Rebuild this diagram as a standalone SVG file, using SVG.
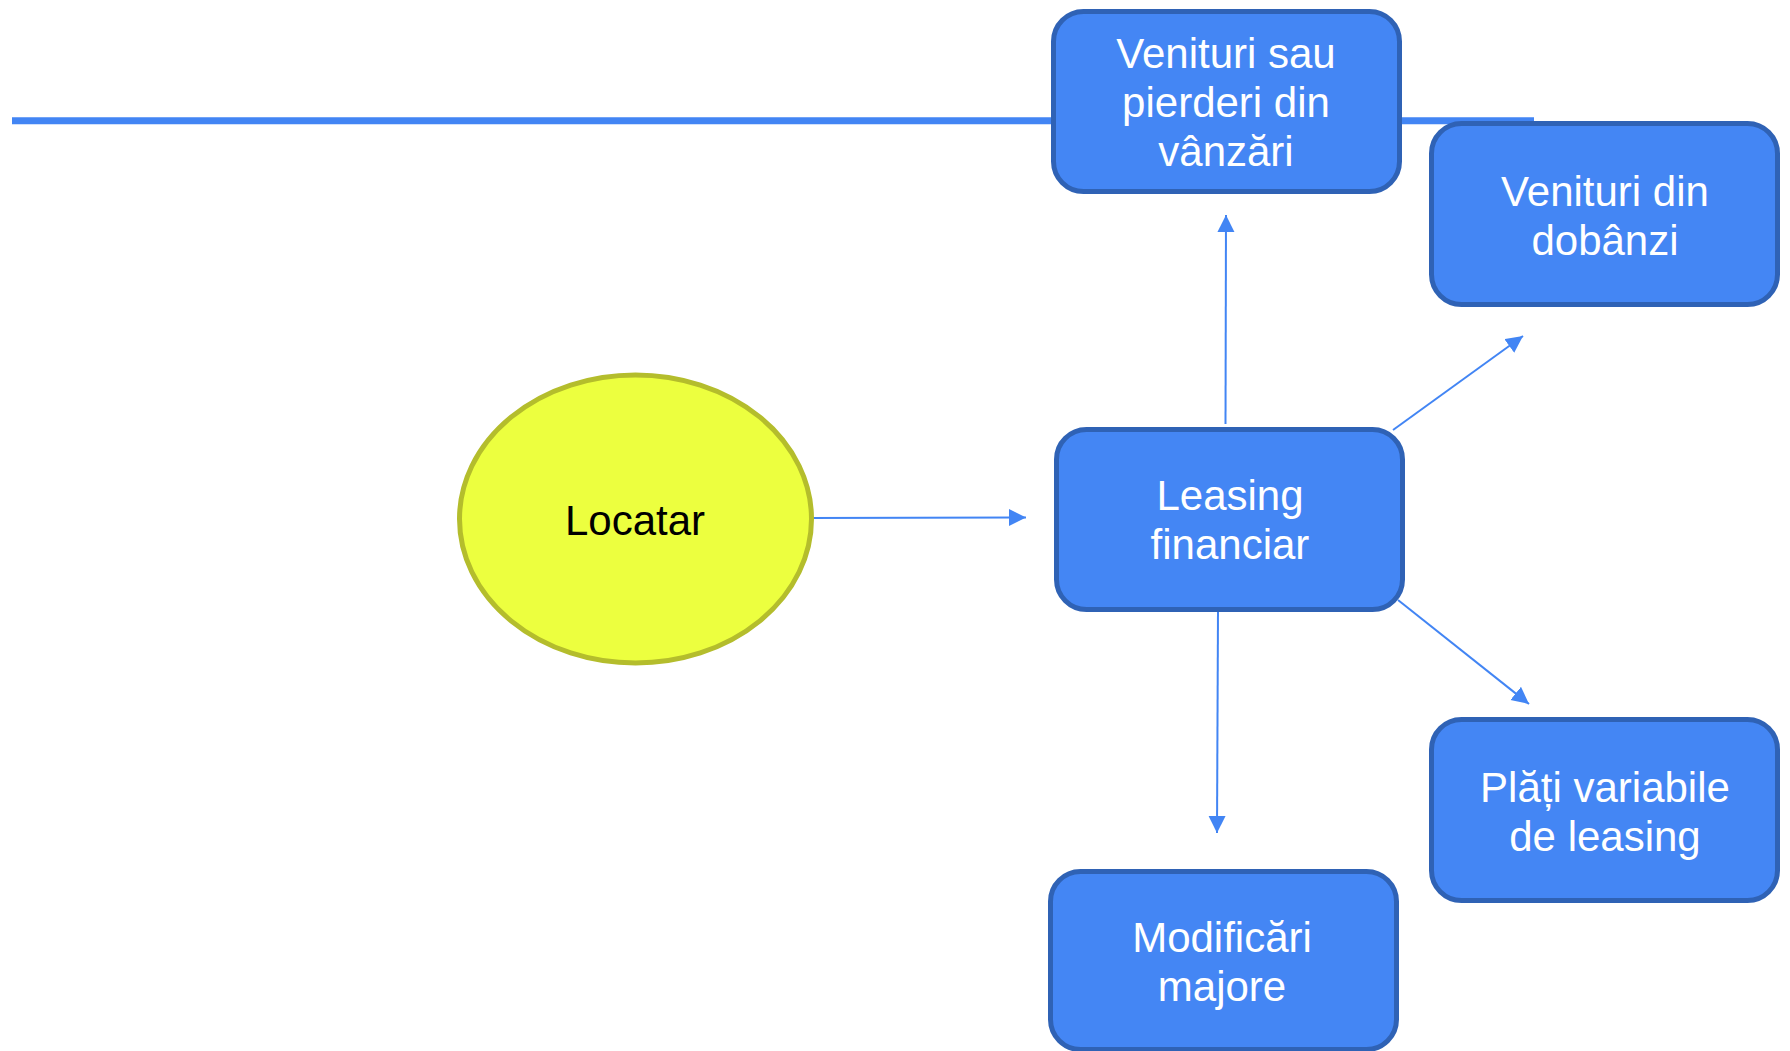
<svg xmlns="http://www.w3.org/2000/svg" width="1790" height="1051" viewBox="0 0 1790 1051">
<style>
.box{fill:#4486f4;stroke:#2f62b5;stroke-width:5}
.bt{font-family:"Liberation Sans",Arial,sans-serif;font-size:42px;fill:#ffffff;text-anchor:middle}
.conn{stroke:#4285f4;stroke-width:2;fill:none;marker-end:url(#ah)}
</style>
<defs>
<marker id="ah" markerUnits="userSpaceOnUse" markerWidth="18" markerHeight="18" refX="17" refY="8.5" orient="auto">
<path d="M0,0 L17,8.5 L0,17 Z" fill="#4285f4"/>
</marker>
</defs>
<rect width="1790" height="1051" fill="#ffffff"/>
<line x1="12" y1="120.7" x2="1534" y2="120.7" stroke="#4285f4" stroke-width="7"/>
<g id="connectors">
<line class="conn" x1="808" y1="518" x2="1026" y2="517.5"/>
<line class="conn" x1="1225.5" y1="424" x2="1226" y2="215"/>
<line class="conn" x1="1393" y1="430" x2="1523" y2="336"/>
<line class="conn" x1="1398" y1="600" x2="1529" y2="704"/>
<line class="conn" x1="1218" y1="610" x2="1217" y2="833"/>
</g>
<g id="locatar">
<ellipse cx="635.5" cy="519" rx="176" ry="144" fill="#ecff3f" stroke="#b4bd2c" stroke-width="5"/>
<text x="635" y="535" font-family="'Liberation Sans',Arial,sans-serif" font-size="42" fill="#000000" text-anchor="middle">Locatar</text>
</g>
<g id="venituri-vanzari">
<rect class="box" x="1053.5" y="11.5" width="346" height="180" rx="30"/>
<text class="bt" x="1226" y="68">Venituri sau</text>
<text class="bt" x="1226" y="117">pierderi din</text>
<text class="bt" x="1226" y="166">vânzări</text>
</g>
<g id="venituri-dobanzi">
<rect class="box" x="1431.5" y="123.5" width="346" height="181" rx="30"/>
<text class="bt" x="1605" y="206">Venituri din</text>
<text class="bt" x="1605" y="255">dobânzi</text>
</g>
<g id="leasing">
<rect class="box" x="1056.5" y="429.5" width="346" height="180" rx="30"/>
<text class="bt" x="1230" y="510">Leasing</text>
<text class="bt" x="1230" y="559">financiar</text>
</g>
<g id="plati">
<rect class="box" x="1431.5" y="719.5" width="346" height="181" rx="30"/>
<text class="bt" x="1605" y="802">Plăți variabile</text>
<text class="bt" x="1605" y="851">de leasing</text>
</g>
<g id="modificari">
<rect class="box" x="1050.5" y="871.5" width="346" height="178" rx="30"/>
<text class="bt" x="1222" y="952">Modificări</text>
<text class="bt" x="1222" y="1001">majore</text>
</g>
</svg>
